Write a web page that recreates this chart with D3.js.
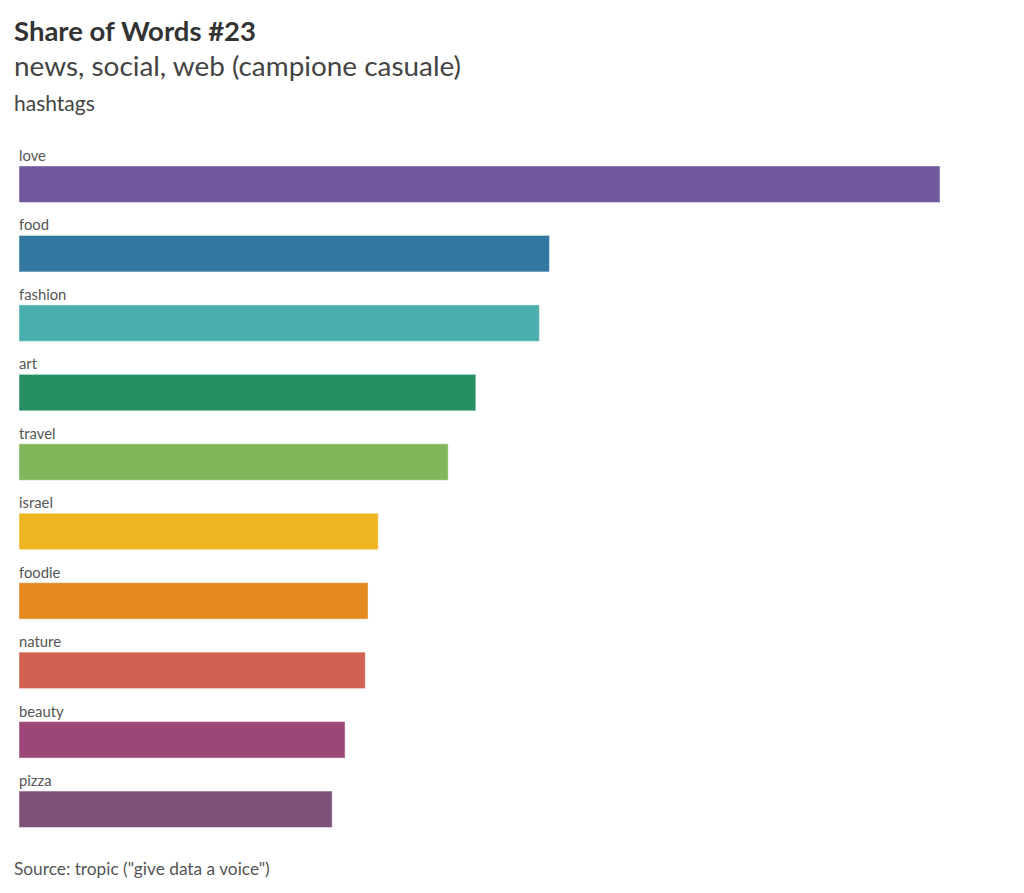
<!DOCTYPE html>
<html>
<head>
<meta charset="utf-8">
<script src="https://cdn.jsdelivr.net/npm/d3@7"></script>
<style>
  body { margin: 0; background: #fff; }
  text { font-family: Lato, "Open Sans", sans-serif; }
</style>
</head>
<body>
<div id="chart"></div>
<script>
// data (relative shares, love = 100)
const words = ['love', 'food', 'fashion', 'art', 'travel', 'israel', 'foodie', 'nature', 'beauty', 'pizza']
const shares = [100, 57.6, 56.5, 49.6, 46.6, 39.0, 37.9, 37.6, 35.4, 34.0]
const colors = ['#6f589c', '#31779f', '#4aaead', '#268f62', '#81b65a', '#eeb520', '#e48a20', '#d16150', '#9c4778', '#7d527a']

const title = 'Share of Words #23'
const subtitle = 'news, social, web (campione casuale)'
const caption = 'hashtags'
const source = 'Source: tropic ("give data a voice")'

const dms = {
  width: 1024,
  height: 893,
  margin: { top: 166, right: 84, bottom: 65.5, left: 19 }
}

const svg = d3.select('#chart')
  .append('svg')
  .attr('width', dms.width)
  .attr('height', dms.height)

const data = words.map((w, i) => ({ word: w, share: shares[i], color: colors[i] }))

const xScale = d3.scaleLinear()
  .domain([0, d3.max(shares)])
  .range([dms.margin.left, dms.width - dms.margin.right])

const yScale = d3.scaleBand()
  .domain(words)
  .range([dms.margin.top, dms.height - dms.margin.bottom])
  .paddingInner(0.475)
  .paddingOuter(0)

// titles
svg.append('text')
  .attr('x', 14).attr('y', 41)
  .attr('font-size', 27.5).attr('font-weight', 700)
  .attr('fill', '#333')
  .text(title)

svg.append('text')
  .attr('x', 14).attr('y', 76)
  .attr('font-size', 27.9)
  .attr('fill', '#444')
  .text(subtitle)

svg.append('text')
  .attr('x', 14).attr('y', 111)
  .attr('font-size', 21)
  .attr('fill', '#444')
  .text(caption)

// bars
const rows = svg.append('g').attr('id', 'bars')
  .selectAll('g')
  .data(data)
  .join('g')

rows.append('rect')
  .attr('x', xScale(0))
  .attr('y', d => yScale(d.word))
  .attr('width', d => xScale(d.share) - xScale(0))
  .attr('height', yScale.bandwidth())
  .attr('fill', d => d.color)
  .attr('stroke', '#fff')
  .attr('stroke-opacity', 0.45)

rows.append('text')
  .attr('x', xScale(0))
  .attr('y', d => yScale(d.word) - 5)
  .attr('font-size', 14.8)
  .attr('fill', '#555')
  .text(d => d.word)

svg.append('text')
  .attr('x', 14).attr('y', 875)
  .attr('font-size', 17.3)
  .attr('fill', '#555')
  .text(source)
</script>
</body>
</html>
